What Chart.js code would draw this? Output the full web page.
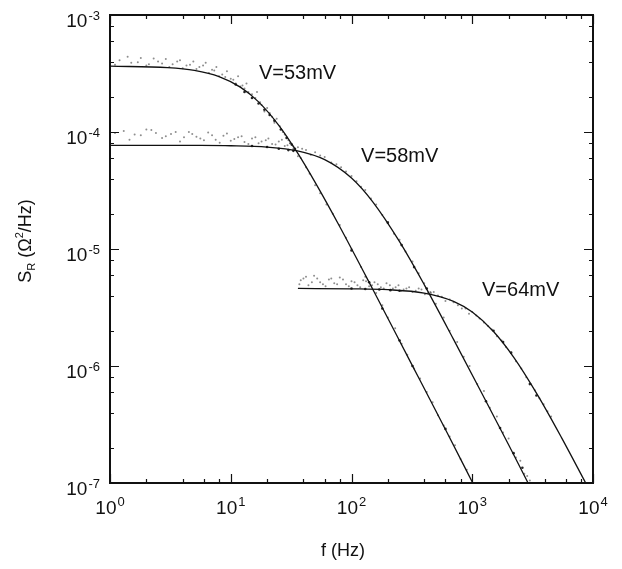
<!DOCTYPE html>
<html>
<head>
<meta charset="utf-8">
<script src="https://cdn.jsdelivr.net/npm/chart.js@4.4.0/dist/chart.umd.min.js"></script>
<style>
html, body { margin: 0; padding: 0; background: #fff; }
canvas { display: block; }
</style>
</head>
<body>
<canvas id="noiseChart" width="622" height="569"></canvas>
<script>
// axis decades and their exponents
var xTicks = [1, 10, 100, 1000, 10000];
var xExp = ['0', '1', '2', '3', '4'];
var yTicks = [1e-7, 1e-6, 1e-5, 1e-4, 1e-3];
var yExp = ['-7', '-6', '-5', '-4', '-3'];

// fitted curves (f in Hz, S_R in ohm^2/Hz)
var f53 = [1, 3, 5, 8, 12, 17, 25, 35, 50, 80, 150, 300, 600, 1010];
var s53 = [3.65e-4, 3.55e-4, 3.36e-4, 2.98e-4, 2.42e-4, 1.81e-4, 1.14e-4, 6.85e-5, 3.71e-5, 1.55e-5, 4.53e-6, 1.14e-6, 2.87e-7, 1.0e-7];

var f58 = [1, 5, 10, 20, 35, 60, 100, 150, 250, 400, 700, 1200, 2000, 2900];
var s58 = [7.7e-5, 7.68e-5, 7.63e-5, 7.43e-5, 6.93e-5, 5.8e-5, 4.04e-5, 2.53e-5, 1.155e-5, 4.96e-6, 1.69e-6, 5.85e-7, 2.12e-7, 1.0e-7];

var f64 = [36, 100, 200, 400, 700, 1000, 1500, 2200, 3500, 5500, 8700];
var s64 = [4.6e-6, 4.57e-6, 4.49e-6, 4.2e-6, 3.57e-6, 2.89e-6, 1.97e-6, 1.19e-6, 5.58e-7, 2.43e-7, 1.0e-7];

// measured points (faint scatter)
var pf53 = [1.2, 1.5, 1.8, 2.1, 2.5, 2.9, 3.3, 3.8, 4.3, 4.9, 5.5, 6.2, 7.0, 7.6, 8.5, 9.3, 10.5, 11.5, 12.5, 13.5, 15, 16.5, 18, 20, 22, 24, 27, 30, 33, 38, 45, 55, 70, 90, 120, 160, 200, 260, 330, 420, 520, 650, 800,
            1.1, 1.4, 1.7, 2.0, 2.3, 2.7, 3.1, 3.6, 4.0, 4.6, 5.2, 5.9, 6.6, 7.3, 8.0, 9.0, 10, 11, 12, 13, 14, 16, 17.5, 19, 21, 23, 25.5, 28, 31, 36, 42, 50, 62, 80, 100, 130, 180, 230, 290, 370, 470, 580, 720, 900];
var ps53 = [4.1e-4, 3.9e-4, 4.3e-4, 3.8e-4, 4.0e-4, 4.2e-4, 3.8e-4, 4.1e-4, 3.7e-4, 4.0e-4, 3.6e-4, 3.9e-4, 3.4e-4, 3.6e-4, 3.1e-4, 3.3e-4, 2.8e-4, 3.0e-4, 2.5e-4, 2.6e-4, 2.1e-4, 2.2e-4, 1.7e-4, 1.6e-4, 1.35e-4, 1.3e-4, 1.0e-4, 8.5e-5, 7.2e-5, 6.0e-5, 4.4e-5, 3.0e-5, 2.0e-5, 1.25e-5, 7.0e-6, 4.2e-6, 2.6e-6, 1.55e-6, 9.5e-7, 6.0e-7, 3.8e-7, 2.5e-7, 1.6e-7,
            3.75e-4, 4.4e-4, 3.95e-4, 3.7e-4, 4.25e-4, 3.85e-4, 3.6e-4, 4.0e-4, 3.5e-4, 3.75e-4, 3.45e-4, 3.7e-4, 3.2e-4, 3.35e-4, 3.0e-4, 2.95e-4, 2.85e-4, 2.6e-4, 2.45e-4, 2.35e-4, 2.2e-4, 1.95e-4, 1.8e-4, 1.5e-4, 1.45e-4, 1.2e-4, 1.12e-4, 9.5e-5, 8.0e-5, 6.2e-5, 5.0e-5, 3.5e-5, 2.4e-5, 1.6e-5, 1.0e-5, 5.8e-6, 3.3e-6, 2.1e-6, 1.25e-6, 7.8e-7, 4.9e-7, 3.1e-7, 2.1e-7, 1.3e-7];

var pf58 = [1.3, 1.6, 2, 2.4, 2.9, 3.5, 4.1, 4.8, 5.6, 6.5, 7.5, 8.7, 10, 11.5, 13, 15, 17, 19.5, 22, 25, 28, 31, 36, 42, 50, 60, 75, 90, 110, 130, 160, 200, 250, 320, 400, 500, 650, 850, 1100, 1400, 1800, 2300, 2700, 3000,
            1.1, 1.45, 1.8, 2.2, 2.7, 3.2, 3.8, 4.5, 5.2, 6, 7, 8.1, 9.3, 10.7, 12.3, 14, 16, 18, 20.5, 23.5, 26.5, 29.5, 33, 39, 46, 55, 68, 82, 100, 120, 145, 180, 225, 280, 360, 450, 580, 750, 950, 1250, 1600, 2000, 2500, 2850];
var ps58 = [1.02e-4, 9.5e-5, 1.05e-4, 9.8e-5, 9.2e-5, 1.0e-4, 9.0e-5, 9.6e-5, 8.8e-5, 9.9e-5, 8.6e-5, 9.3e-5, 8.4e-5, 9.0e-5, 8.2e-5, 8.8e-5, 8.0e-5, 8.5e-5, 7.9e-5, 8.3e-5, 7.6e-5, 8.0e-5, 7.4e-5, 7.0e-5, 6.7e-5, 6.1e-5, 5.3e-5, 4.6e-5, 3.8e-5, 3.2e-5, 2.4e-5, 1.7e-5, 1.2e-5, 7.8e-6, 5.1e-6, 3.4e-6, 2.0e-6, 1.2e-6, 7.0e-7, 4.4e-7, 2.7e-7, 1.65e-7, 1.2e-7, 1.05e-7,
            9.8e-5, 8.6e-5, 9.4e-5, 1.04e-4, 8.9e-5, 9.6e-5, 8.3e-5, 1.0e-4, 9.1e-5, 8.5e-5, 9.4e-5, 8.1e-5, 9.7e-5, 8.7e-5, 9.2e-5, 7.9e-5, 9.0e-5, 8.3e-5, 8.8e-5, 7.8e-5, 8.6e-5, 7.7e-5, 7.5e-5, 7.2e-5, 6.4e-5, 6.3e-5, 5.5e-5, 5.0e-5, 4.2e-5, 3.4e-5, 2.7e-5, 1.95e-5, 1.35e-5, 9.5e-6, 6.2e-6, 4.3e-6, 2.6e-6, 1.6e-6, 1.0e-6, 6.1e-7, 3.7e-7, 2.4e-7, 1.55e-7, 1.15e-7];

var pf64 = [38, 42, 47, 52, 58, 65, 72, 80, 90, 100, 112, 125, 140, 155, 175, 195, 220, 245, 270, 300, 340, 380, 430, 480, 560, 650, 760, 880, 1000, 1150, 1350, 1600, 1900, 2300, 2800, 3300, 3900, 4500,
            37, 40, 44, 49, 55, 61, 68, 76, 85, 95, 106, 118, 132, 148, 165, 185, 208, 232, 258, 285, 320, 360, 405, 455, 520, 600, 700, 820, 940, 1080, 1250, 1450, 1750, 2100, 2550, 3050, 3600, 4200];
var ps64 = [5.4e-6, 5.8e-6, 5.2e-6, 5.6e-6, 5.0e-6, 5.5e-6, 5.1e-6, 5.7e-6, 5.0e-6, 5.3e-6, 4.9e-6, 5.4e-6, 4.8e-6, 5.2e-6, 4.7e-6, 5.1e-6, 4.6e-6, 4.9e-6, 4.5e-6, 4.7e-6, 4.4e-6, 4.5e-6, 4.2e-6, 4.3e-6, 3.9e-6, 3.7e-6, 3.3e-6, 3.1e-6, 2.9e-6, 2.55e-6, 2.2e-6, 1.8e-6, 1.45e-6, 1.1e-6, 8.0e-7, 6.2e-7, 4.7e-7, 3.7e-7,
            5.0e-6, 5.6e-6, 4.9e-6, 5.9e-6, 5.2e-6, 4.8e-6, 5.6e-6, 5.0e-6, 5.5e-6, 4.8e-6, 5.2e-6, 4.7e-6, 5.3e-6, 4.9e-6, 5.0e-6, 4.6e-6, 4.9e-6, 4.7e-6, 4.4e-6, 4.6e-6, 4.3e-6, 4.6e-6, 4.1e-6, 4.2e-6, 4.0e-6, 3.6e-6, 3.5e-6, 3.1e-6, 2.8e-6, 2.7e-6, 2.35e-6, 2.05e-6, 1.65e-6, 1.3e-6, 9.5e-7, 7.0e-7, 5.3e-7, 4.1e-7];

// dense points lying on the curves
var df = [11, 13, 15, 17, 19, 21, 23, 26, 29, 32, 34, 100, 140, 180, 250, 320, 600,
          15, 20, 25, 30, 33, 200, 260, 330, 420, 1300, 1700, 2200, 2600,
          100, 130, 170, 210, 250, 1500, 1800, 2100, 3000, 3400];
var ds = [2.55e-4, 2.2e-4, 1.95e-4, 1.75e-4, 1.55e-4, 1.4e-4, 1.25e-4, 1.05e-4, 8.9e-5, 7.8e-5, 7.2e-5, 9.7e-6, 5.2e-6, 3.1e-6, 1.65e-6, 1.0e-6, 2.9e-7,
          7.6e-5, 7.45e-5, 7.2e-5, 7.0e-5, 6.9e-5, 1.68e-5, 1.08e-5, 7.0e-6, 4.6e-6, 5.0e-7, 2.95e-7, 1.8e-7, 1.35e-7,
          4.6e-6, 4.55e-6, 4.5e-6, 4.45e-6, 4.4e-6, 2.0e-6, 1.6e-6, 1.3e-6, 7.0e-7, 5.6e-7];

var curveLabels = ['V=53mV', 'V=58mV', 'V=64mV'];
var labelF = [17.1, 120, 1205];
var labelS = [2.84e-4, 5.55e-5, 3.96e-6];

function pts(fs, ss) {
  var out = [];
  for (var i = 0; i < fs.length; i++) out.push({ x: fs[i], y: ss[i] });
  return out;
}

function lineSet(fs, ss) {
  return {
    type: 'line', data: pts(fs, ss), borderColor: '#111', borderWidth: 1.3,
    pointRadius: 0, fill: false, cubicInterpolationMode: 'monotone', order: 0
  };
}

function dotSet(fs, ss, color, r) {
  return {
    type: 'scatter', data: pts(fs, ss), backgroundColor: color, borderWidth: 0,
    pointRadius: r, order: 1
  };
}

var FONT = '"Liberation Sans", Arial, Helvetica, sans-serif';

function drawPow(ctx, x, base, exp, expBase, align) {
  ctx.font = '19px ' + FONT;
  var w1 = ctx.measureText('10').width;
  ctx.font = '13px ' + FONT;
  var w2 = ctx.measureText(exp).width;
  var left = align === 'center' ? x - (w1 + 1 + w2) / 2 : x - (w1 + 1 + w2);
  ctx.textAlign = 'left';
  ctx.font = '19px ' + FONT;
  ctx.fillText('10', left, base);
  ctx.font = '13px ' + FONT;
  ctx.fillText(exp, left + w1 + 1, expBase);
}

var framePlugin = {
  id: 'framePlugin',
  afterDatasetsDraw: function(chart) {
    var ctx = chart.ctx, a = chart.chartArea;
    var xs = chart.scales.x, ys = chart.scales.y;
    var mults = [1, 2, 4, 6, 8];
    ctx.save();
    ctx.strokeStyle = '#111';
    ctx.fillStyle = '#111';
    ctx.lineWidth = 2;
    ctx.strokeRect(a.left, a.top, a.right - a.left, a.bottom - a.top);

    ctx.lineWidth = 1.2;
    ctx.beginPath();
    for (var d = 0; d <= 4; d++) {
      for (var k = 0; k < mults.length; k++) {
        var v = mults[k] * Math.pow(10, d);
        if (v > 10000) break;
        var px = Math.round(xs.getPixelForValue(v)) + 0.5;
        var len = k === 0 ? 9 : 4;
        ctx.moveTo(px, a.bottom); ctx.lineTo(px, a.bottom - len);
        ctx.moveTo(px, a.top); ctx.lineTo(px, a.top + len);
      }
    }
    for (var e = -7; e <= -3; e++) {
      for (var j = 0; j < mults.length; j++) {
        var w = mults[j] * Math.pow(10, e);
        if (w > 1.0001e-3) break;
        var py = Math.round(ys.getPixelForValue(w)) + 0.5;
        var ln = j === 0 ? 9 : 4;
        ctx.moveTo(a.left, py); ctx.lineTo(a.left + ln, py);
        ctx.moveTo(a.right, py); ctx.lineTo(a.right - ln, py);
      }
    }
    ctx.stroke();

    ctx.textBaseline = 'alphabetic';
    for (var i = 0; i < xTicks.length; i++) {
      drawPow(ctx, xs.getPixelForValue(xTicks[i]), 514, xExp[i], 506, 'center');
    }
    for (var n = 0; n < yTicks.length; n++) {
      var yp = ys.getPixelForValue(yTicks[n]);
      drawPow(ctx, 100, yp + 11.5, yExp[n], yp + 4.5, 'right');
    }

    // curve labels
    ctx.font = '20px ' + FONT;
    ctx.textAlign = 'left';
    for (var c = 0; c < curveLabels.length; c++) {
      ctx.fillText(curveLabels[c], xs.getPixelForValue(labelF[c]), ys.getPixelForValue(labelS[c]));
    }

    // x title
    ctx.font = '18px ' + FONT;
    ctx.textAlign = 'center';
    ctx.fillText('f (Hz)', 343, 556);

    // y title, rotated, with subscript and superscript
    var parts = [
      { t: 'S', s: 18, dy: 0 },
      { t: 'R', s: 11, dy: 4 },
      { t: ' (\u03A9', s: 18, dy: 0 },
      { t: '2', s: 11, dy: -8 },
      { t: '/Hz)', s: 18, dy: 0 }
    ];
    var total = 0;
    parts.forEach(function(p) { ctx.font = p.s + 'px ' + FONT; p.w = ctx.measureText(p.t).width; total += p.w; });
    ctx.translate(31, 241);
    ctx.rotate(-Math.PI / 2);
    ctx.textAlign = 'left';
    var cx = -total / 2;
    parts.forEach(function(p) { ctx.font = p.s + 'px ' + FONT; ctx.fillText(p.t, cx, p.dy); cx += p.w; });
    ctx.restore();
  }
};

var ctx = document.getElementById('noiseChart');
new Chart(ctx, {
  data: {
    datasets: [
      lineSet(f53, s53),
      lineSet(f58, s58),
      lineSet(f64, s64),
      dotSet(pf53, ps53, 'rgba(50,50,50,0.55)', 1),
      dotSet(pf58, ps58, 'rgba(50,50,50,0.55)', 1),
      dotSet(pf64, ps64, 'rgba(50,50,50,0.55)', 1),
      dotSet(df, ds, 'rgba(0,0,0,0.85)', 1.3)
    ]
  },
  options: {
    responsive: false,
    animation: false,
    devicePixelRatio: 1,
    layout: { padding: { left: 110, right: 29, top: 15, bottom: 86 } },
    plugins: { legend: { display: false }, tooltip: { enabled: false } },
    scales: {
      x: { type: 'logarithmic', min: 1, max: 10000, display: false },
      y: { type: 'logarithmic', min: 1e-7, max: 1e-3, display: false }
    }
  },
  plugins: [framePlugin]
});
</script>
</body>
</html>
